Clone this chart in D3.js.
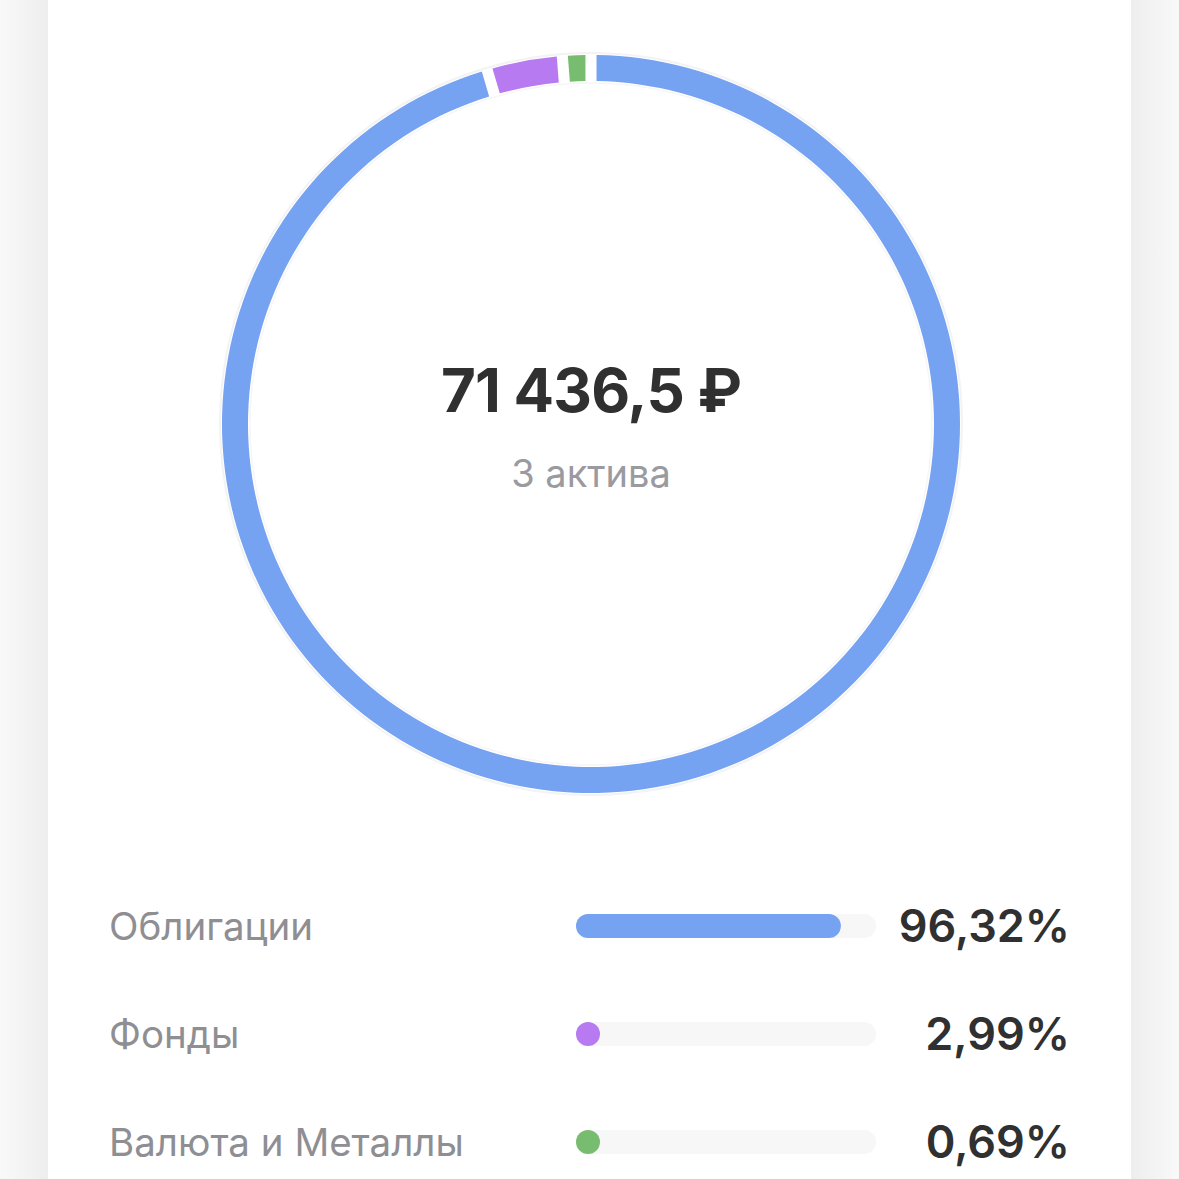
<!DOCTYPE html>
<html><head><meta charset="utf-8">
<script src="https://cdn.jsdelivr.net/npm/d3@7/dist/d3.min.js"></script>
<style>html,body{margin:0;padding:0;background:#fff;}svg{display:block;}</style>
</head><body>
<svg id="chart" width="1179" height="1179"></svg>
<script>
// ---- data ----
const categories = ["Облигации", "Фонды", "Валюта и Металлы"];
const shares = [96.32, 2.99, 0.69];
const shareLabels = ["96,32%", "2,99%", "0,69%"];
const colors = ["#76a2f2", "#b77af0", "#78bd6f"];
const totalLabel = "71 436,5 ₽";
const subtitleLabel = "3 актива";

const W = 1179, H = 1179;
const svg = d3.select("#chart");
const defs = svg.append("defs");

// side background gradients (page shading outside card)
const gl = defs.append("linearGradient").attr("id","gl").attr("x1","0").attr("x2","1");
gl.append("stop").attr("offset","0").attr("stop-color","#f9f9f9");
gl.append("stop").attr("offset","1").attr("stop-color","#eeeeee");
const gr = defs.append("linearGradient").attr("id","gr").attr("x1","0").attr("x2","1");
gr.append("stop").attr("offset","0").attr("stop-color","#eeeeee");
gr.append("stop").attr("offset","1").attr("stop-color","#f9f9f9");
svg.append("rect").attr("x",0).attr("y",0).attr("width",W).attr("height",H).attr("fill","#fff");
svg.append("rect").attr("x",0).attr("y",0).attr("width",48).attr("height",H).attr("fill","url(#gl)");
svg.append("rect").attr("x",1131).attr("y",0).attr("width",48).attr("height",H).attr("fill","url(#gr)");

// ---- donut ----
const cx = 591, cy = 424, outerR = 369, innerR = 343;
const minShare = 0.9; // smallest visible share of the ring
const data = categories.map((c,i)=>({name:c, value:shares[i], color:colors[i]}));
const pie = d3.pie().sort(null).value(d=>Math.max(d.value, minShare)).padAngle(0.022);
const arc = d3.arc().innerRadius(innerR).outerRadius(outerR);
const g = svg.append("g").attr("transform",`translate(${cx},${cy})`);
g.append("circle").attr("r",outerR+2).attr("fill","none").attr("stroke","#f3f3f3").attr("stroke-width",2);
g.append("circle").attr("r",innerR-2).attr("fill","none").attr("stroke","#f6f6f6").attr("stroke-width",1.5);
g.selectAll("path.seg").data(pie(data)).join("path").attr("class","seg")
  .attr("d",arc).attr("fill",d=>d.data.color);

g.append("text").attr("x",0).attr("y",-12).attr("text-anchor","middle")
  .attr("font-family","Inter, 'Noto Sans', sans-serif").attr("font-weight",700)
  .attr("font-size",60).attr("letter-spacing",-0.8).attr("fill","#303030").text(totalLabel);
g.append("text").attr("x",0).attr("y",63).attr("text-anchor","middle")
  .attr("font-family","Inter, 'Noto Sans', sans-serif").attr("font-weight",400)
  .attr("font-size",38).attr("fill","#9a9a9f").text(subtitleLabel);

// ---- legend ----
const rowY = d3.scalePoint().domain(categories).range([926, 1142]);
const trackX = 576, trackW = 300, barH = 24;
const x = d3.scaleLinear().domain([0,100]).range([0,275]);
const rows = svg.selectAll("g.row").data(data).join("g").attr("class","row")
  .attr("transform",d=>`translate(0,${rowY(d.name)})`);
rows.append("text").attr("x",109).attr("y",14)
  .attr("font-family","Inter, 'Noto Sans', sans-serif").attr("font-size",38.5)
  .attr("fill","#8e8e93").text(d=>d.name);
rows.append("rect").attr("x",trackX).attr("y",-barH/2).attr("width",trackW).attr("height",barH)
  .attr("rx",barH/2).attr("fill","#f7f7f7");
rows.append("rect").attr("x",trackX).attr("y",-barH/2).attr("width",d=>Math.max(barH, x(d.value)))
  .attr("height",barH).attr("rx",barH/2).attr("fill",d=>d.color);
rows.append("text").attr("x",1070).attr("y",16).attr("text-anchor","end")
  .attr("font-family","Inter, 'Noto Sans', sans-serif").attr("font-weight",600).attr("font-size",45)
  .attr("fill","#303030").text((d,i)=>shareLabels[i]);
</script>
</body></html>
